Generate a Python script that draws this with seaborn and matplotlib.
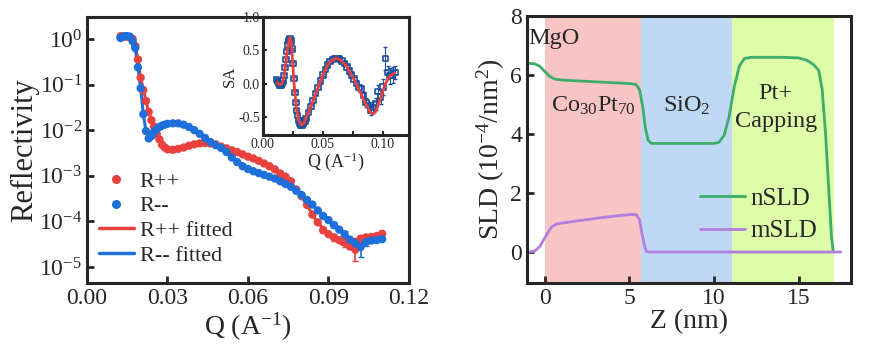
import numpy as np
import matplotlib
matplotlib.use("Agg")
import matplotlib.pyplot as plt
from matplotlib.lines import Line2D
from matplotlib.ticker import MultipleLocator, LogLocator, NullLocator
import seaborn as sns

# reflectivity data (log10 of R)
q_data = [0.0125, 0.013, 0.014, 0.015, 0.016, 0.017, 0.018, 0.019, 0.020, 0.021,
          0.022, 0.023, 0.024, 0.025, 0.026, 0.027, 0.028, 0.029, 0.030, 0.032,
          0.034, 0.036, 0.038, 0.040, 0.042, 0.044, 0.046, 0.048, 0.050, 0.052,
          0.054, 0.056, 0.058, 0.060, 0.062, 0.064, 0.066, 0.068, 0.070, 0.072,
          0.074, 0.076, 0.078, 0.080, 0.082, 0.084, 0.086, 0.088, 0.090, 0.092,
          0.094, 0.096, 0.098, 0.100, 0.102, 0.104, 0.106, 0.108, 0.110]
log_r_pp = [0.06, 0.05, 0.05, 0.05, 0.04, 0.0, -0.15, -0.45, -0.85, -1.12,
            -1.36, -1.60, -1.78, -1.92, -2.08, -2.20, -2.32, -2.38, -2.42, -2.43,
            -2.41, -2.38, -2.34, -2.31, -2.29, -2.28, -2.29, -2.31, -2.36, -2.40,
            -2.44, -2.48, -2.53, -2.58, -2.62, -2.67, -2.73, -2.79, -2.86, -2.95,
            -3.02, -3.12, -3.30, -3.45, -3.64, -3.85, -4.02, -4.19, -4.28, -4.35,
            -4.41, -4.46, -4.55, -4.62, -4.38, -4.35, -4.34, -4.32, -4.27]
log_r_mm = [0.02, 0.04, 0.06, 0.06, 0.05, -0.05, -0.20, -0.62, -1.08, -1.65,
            -2.02, -2.18, -2.13, -2.04, -1.97, -1.93, -1.90, -1.88, -1.86, -1.85,
            -1.85, -1.88, -1.93, -2.00, -2.08, -2.17, -2.26, -2.33, -2.39, -2.48,
            -2.60, -2.70, -2.79, -2.85, -2.90, -2.94, -2.98, -3.02, -3.06, -3.12,
            -3.18, -3.24, -3.33, -3.42, -3.53, -3.63, -3.76, -3.88, -3.97, -4.08,
            -4.18, -4.28, -4.40, -4.48, -4.56, -4.45, -4.42, -4.41, -4.39]
# error bars (in decades) only visible at high Q
q_err = [0.088, 0.092, 0.096, 0.100, 0.102, 0.104]
log_err_pp = [0.06, 0.08, 0.10, 0.25, 0.08, 0.06]
log_err_mm = [0.05, 0.06, 0.08, 0.10, 0.22, 0.08]

q_fit = [0.012, 0.014, 0.016, 0.017, 0.018, 0.019, 0.020, 0.021, 0.022, 0.023,
         0.024, 0.026, 0.028, 0.030, 0.034, 0.038, 0.042, 0.046, 0.050, 0.055,
         0.060, 0.065, 0.070, 0.075, 0.080, 0.085, 0.090, 0.095, 0.100, 0.105, 0.110]
log_fit_pp = [0.03, 0.05, 0.04, 0.0, -0.15, -0.45, -0.85, -1.12, -1.36, -1.60,
              -1.78, -2.08, -2.32, -2.42, -2.41, -2.34, -2.29, -2.29, -2.36, -2.46,
              -2.58, -2.70, -2.86, -3.07, -3.45, -3.94, -4.30, -4.50, -4.55, -4.40, -4.30]
log_fit_mm = [0.02, 0.06, 0.05, -0.05, -0.20, -0.62, -1.08, -1.65, -2.02, -2.16,
              -2.13, -1.97, -1.90, -1.86, -1.85, -1.93, -2.08, -2.26, -2.39, -2.65,
              -2.85, -2.96, -3.06, -3.21, -3.42, -3.70, -3.97, -4.23, -4.45, -4.45, -4.40]

# spin asymmetry (inset)
sa_q = [0.0114, 0.0122, 0.013, 0.014, 0.015, 0.016, 0.017, 0.0178, 0.0186, 0.0194,
        0.0202, 0.021, 0.0218, 0.0226, 0.0234, 0.0242, 0.025, 0.0258, 0.0266, 0.0274,
        0.0282, 0.029, 0.030, 0.031, 0.032, 0.033, 0.034, 0.035, 0.036, 0.038,
        0.040, 0.042, 0.044, 0.046, 0.048, 0.050, 0.052, 0.054, 0.056, 0.058,
        0.060, 0.062, 0.064, 0.066, 0.068, 0.070, 0.072, 0.074, 0.076, 0.078,
        0.080, 0.082, 0.084, 0.086, 0.088, 0.090, 0.092, 0.094, 0.096, 0.098,
        0.100, 0.102, 0.104, 0.106, 0.108, 0.110]
sa_val = [0.06, 0.03, 0.0, -0.02, -0.02, 0.0, 0.04, 0.12, 0.24, 0.36,
          0.48, 0.58, 0.65, 0.68, 0.64, 0.52, 0.30, 0.08, -0.13, -0.28,
          -0.40, -0.48, -0.55, -0.60, -0.62, -0.62, -0.60, -0.56, -0.52, -0.43,
          -0.34, -0.25, -0.15, -0.06, 0.04, 0.13, 0.21, 0.28, 0.33, 0.36,
          0.38, 0.38, 0.37, 0.34, 0.30, 0.25, 0.19, 0.13, 0.07, 0.0,
          -0.06, -0.08, -0.18, -0.28, -0.33, -0.40, -0.36, -0.30, -0.12, -0.20,
          -0.05, 0.38, 0.17, 0.12, 0.13, 0.17]
sa_err = [0.02] * 40 + [0.02, 0.02, 0.02, 0.02, 0.02, 0.03, 0.03, 0.03, 0.03, 0.04,
                        0.04, 0.05, 0.05, 0.06, 0.06, 0.07, 0.08, 0.09, 0.10, 0.10,
                        0.12, 0.17, 0.10, 0.12, 0.12, 0.10]
sa_fit_q = [0.012, 0.014, 0.016, 0.018, 0.020, 0.022, 0.023, 0.024, 0.026, 0.028,
            0.030, 0.032, 0.034, 0.038, 0.042, 0.046, 0.050, 0.054, 0.058, 0.062,
            0.066, 0.070, 0.074, 0.078, 0.082, 0.086, 0.090, 0.092, 0.094, 0.098,
            0.102, 0.106, 0.110]
sa_fit = [0.02, -0.02, 0.0, 0.15, 0.45, 0.67, 0.69, 0.55, 0.0, -0.38,
          -0.55, -0.62, -0.60, -0.43, -0.25, -0.06, 0.13, 0.28, 0.36, 0.38,
          0.34, 0.25, 0.13, -0.01, -0.16, -0.32, -0.44, -0.45, -0.42, -0.22,
          0.0, 0.12, 0.16]

# SLD profiles
z_n = [-1.0, -0.6, -0.3, 0.0, 0.3, 0.6, 1.0, 2.0, 3.0, 4.0, 5.0, 5.4, 5.6, 5.8,
       5.95, 6.1, 6.3, 8.0, 10.0, 10.3, 10.6, 10.9, 11.2, 11.5, 11.8, 12.2, 14.0,
       15.0, 15.5, 15.9, 16.2, 16.4, 16.6, 16.8, 16.95, 17.05]
nsld = [6.40, 6.38, 6.30, 6.12, 5.95, 5.86, 5.83, 5.80, 5.77, 5.74, 5.71, 5.68,
        5.50, 4.90, 4.20, 3.80, 3.68, 3.68, 3.68, 3.72, 3.95, 4.60, 5.60, 6.30,
        6.56, 6.60, 6.60, 6.58, 6.50, 6.35, 6.15, 5.50, 4.00, 2.00, 0.50, 0.03]
z_m = [-1.0, -0.6, -0.3, 0.1, 0.4, 0.7, 1.0, 2.0, 3.0, 4.0, 5.0, 5.4, 5.6, 5.75,
       5.9, 6.0, 6.2, 10.0, 15.0, 17.5]
msld = [0.0, 0.03, 0.18, 0.58, 0.85, 0.95, 0.98, 1.06, 1.14, 1.21, 1.27, 1.27,
        1.10, 0.62, 0.20, 0.02, 0.0, 0.0, 0.0, 0.0]

layer_edges = [0.0, 5.71, 11.08, 17.07]
layer_colors = ["#F8C4C4", "#BFD8F4", "#DDFDA8"]

red = "#E8413E"
blue = "#1E6FD9"
dark_blue = "#1B4F9C"
green = "#3DAE6A"
purple = "#B37EE0"

sns.set_theme(style="ticks")
plt.rcParams["font.family"] = ["Liberation Serif", "DejaVu Serif"]
plt.rcParams["mathtext.fontset"] = "custom"
plt.rcParams["mathtext.rm"] = "Liberation Serif"
plt.rcParams["mathtext.it"] = "Liberation Serif:italic"
plt.rcParams["xtick.direction"] = "in"
plt.rcParams["ytick.direction"] = "in"

fig = plt.figure(figsize=(8.82, 3.55), dpi=100)
ax1 = fig.add_axes([0.0986, 0.2028, 0.3651, 0.7492])
ax_in = fig.add_axes([0.298, 0.6197, 0.1657, 0.3323])
ax2 = fig.add_axes([0.5975, 0.2028, 0.3673, 0.7521])

# left: reflectivity
r_pp = 10 ** np.array(log_r_pp)
r_mm = 10 ** np.array(log_r_mm)
sns.lineplot(x=q_fit, y=10 ** np.array(log_fit_pp), ax=ax1, color=red, lw=2.2, sort=False)
sns.lineplot(x=q_fit, y=10 ** np.array(log_fit_mm), ax=ax1, color=blue, lw=2.2, sort=False)
for lr, lerr, col in ((log_r_pp, log_err_pp, red), (log_r_mm, log_err_mm, blue)):
    yv = np.array([lr[q_data.index(q)] for q in q_err])
    ax1.errorbar(q_err, 10 ** yv, yerr=[10 ** yv - 10 ** (yv - np.array(lerr)),
                                        10 ** (yv + np.array(lerr)) - 10 ** yv],
                 fmt="none", ecolor=col, elinewidth=1.2, capsize=2.5, zorder=2)
sns.scatterplot(x=q_data, y=r_pp, ax=ax1, color=red, s=36, edgecolor="none", zorder=3)
sns.scatterplot(x=q_data, y=r_mm, ax=ax1, color=blue, s=36, edgecolor="none", zorder=3)
ax1.set_yscale("log")
ax1.set_xlim(0, 0.12)
ax1.set_ylim(10 ** -5.35, 10 ** 0.48)
ax1.xaxis.set_major_locator(MultipleLocator(0.03))
ax1.xaxis.set_major_formatter(plt.FuncFormatter(lambda v, p: f"{v:.2f}"))
ax1.yaxis.set_major_locator(LogLocator(base=10, numticks=10))
ax1.yaxis.set_minor_locator(NullLocator())
ax1.set_xlabel("Q (A$^{-1}$)", fontsize=20, labelpad=1)
ax1.set_ylabel("Reflectivity", fontsize=22, labelpad=0)
ax1.tick_params(labelsize=17, width=2, length=5)

handles = [
    Line2D([], [], ls="none", marker="o", color=red, markersize=5.5),
    Line2D([], [], ls="none", marker="o", color=blue, markersize=5.5),
    Line2D([], [], color=red, lw=2.5),
    Line2D([], [], color=blue, lw=2.5),
]
ax1.legend(handles, ["R++", "R--", "R++ fitted", "R-- fitted"], loc="upper left",
           bbox_to_anchor=(-0.005, 0.47), frameon=False, fontsize=16,
           handlelength=1.6, handletextpad=0.25, labelspacing=0.18, borderaxespad=0.2)

# inset: spin asymmetry
ax_in.errorbar(sa_q, sa_val, yerr=sa_err, fmt="none", ecolor=dark_blue, elinewidth=0.8, capsize=1.5)
sns.scatterplot(x=sa_q, y=sa_val, ax=ax_in, marker="s", s=16, facecolor="none",
                edgecolor=dark_blue, linewidth=1.2, zorder=3)
sns.lineplot(x=sa_fit_q, y=sa_fit, ax=ax_in, color=red, lw=2, sort=False, zorder=4)
ax_in.set_xlim(0, 0.1217)
ax_in.set_ylim(-0.77, 1.0)
ax_in.xaxis.set_major_locator(MultipleLocator(0.05))
ax_in.xaxis.set_minor_locator(MultipleLocator(0.025))
ax_in.xaxis.set_major_formatter(plt.FuncFormatter(lambda v, p: f"{v:.2f}"))
ax_in.yaxis.set_major_locator(MultipleLocator(0.5))
ax_in.yaxis.set_major_formatter(plt.FuncFormatter(lambda v, p: f"{v:.1f}"))
ax_in.tick_params(labelsize=10, width=1.5, length=3, pad=2)
ax_in.tick_params(which="minor", width=1.5, length=3)
ax_in.set_xlabel("Q (A$^{-1}$)", fontsize=13, labelpad=0)
ax_in.set_ylabel("SA", fontsize=12, labelpad=0)

# right: SLD profile
for i, c in enumerate(layer_colors):
    ax2.axvspan(layer_edges[i], layer_edges[i + 1], color=c, lw=0, zorder=0)
sns.lineplot(x=z_n, y=nsld, ax=ax2, color=green, lw=2, sort=False, label="nSLD")
sns.lineplot(x=z_m, y=msld, ax=ax2, color=purple, lw=2, sort=False, label="mSLD")
ax2.set_xlim(-1.05, 18.1)
ax2.set_ylim(-1.05, 8)
ax2.xaxis.set_major_locator(MultipleLocator(5))
ax2.yaxis.set_major_locator(MultipleLocator(2))
ax2.set_xlabel("Z (nm)", fontsize=20, labelpad=0)
ax2.set_ylabel("SLD (10$^{-4}$/nm$^{2}$)", fontsize=20, labelpad=2)
ax2.tick_params(labelsize=17, width=2, length=5)
ax2.legend(loc="center left", bbox_to_anchor=(0.52, 0.255), frameon=False, fontsize=18,
           handlelength=1.8, handletextpad=0.2, labelspacing=0.4,
           borderaxespad=0, borderpad=0.2)

ax2.text(-1.0, 7.25, "MgO", fontsize=17.5, ha="left", va="center")
ax2.text(2.85, 4.95, "Co$_{30}$Pt$_{70}$", fontsize=17.5, ha="center", va="center")
ax2.text(8.4, 4.95, "SiO$_2$", fontsize=17.5, ha="center", va="center")
ax2.text(13.65, 4.9, "Pt+\nCapping", fontsize=17.5, ha="center", va="center", linespacing=1.45)

for ax in (ax1, ax_in, ax2):
    for s in ax.spines.values():
        s.set_linewidth(2.2)

fig.savefig("out.png", dpi=100)
